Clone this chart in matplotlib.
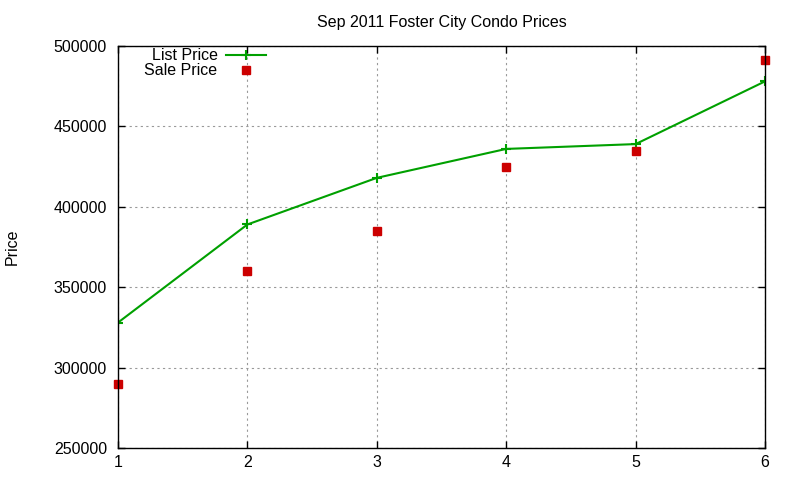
import matplotlib
matplotlib.use('Agg')
import matplotlib.pyplot as plt

plt.rcParams['font.family'] = ['Liberation Sans', 'DejaVu Sans']

# month index (x axis) and prices
months = [1, 2, 3, 4, 5, 6]
list_price = [328000, 389000, 418000, 436000, 439000, 478000]
sale_price = [290000, 360000, 385000, 425000, 435000, 491000]

y_ticks = [250000, 300000, 350000, 400000, 450000, 500000]

fig = plt.figure(figsize=(8, 4.8), dpi=100)
ax = fig.add_axes([118/800, 1 - 448/480, (765 - 118)/800, (448 - 46)/480])

ax.plot(months, list_price, color='#00a000', lw=1.5, marker='+',
        markersize=7, markeredgewidth=1.5, label='List Price')
ax.plot(months, sale_price, color='#cc0000', ls='none', marker='s',
        markersize=6, label='Sale Price', clip_on=False)

ax.set_xlim(1, 6)
ax.set_ylim(250000, 500000)
ax.set_xticks(months)
ax.set_yticks(y_ticks)
ax.tick_params(direction='in', top=True, right=True, length=5, labelsize=11.5, width=1)
ax.tick_params(axis='x', pad=5)
ax.tick_params(axis='y', pad=8)
ax.grid(True, color='#999999', ls=(0, (2, 3)), lw=0.8)
for s in ax.spines.values():
    s.set_linewidth(1)

ax.set_title('Sep 2011 Foster City Condo Prices', fontsize=11.5, pad=14)
ax.set_ylabel('Price', fontsize=11.5, labelpad=24)

ax.legend(loc='upper left', bbox_to_anchor=(0.026, 1.018), frameon=False,
          markerfirst=False, fontsize=11.5, handlelength=2.55,
          handletextpad=0.5, labelspacing=0.0, borderaxespad=0.2)

fig.savefig('out.png', dpi=100)
